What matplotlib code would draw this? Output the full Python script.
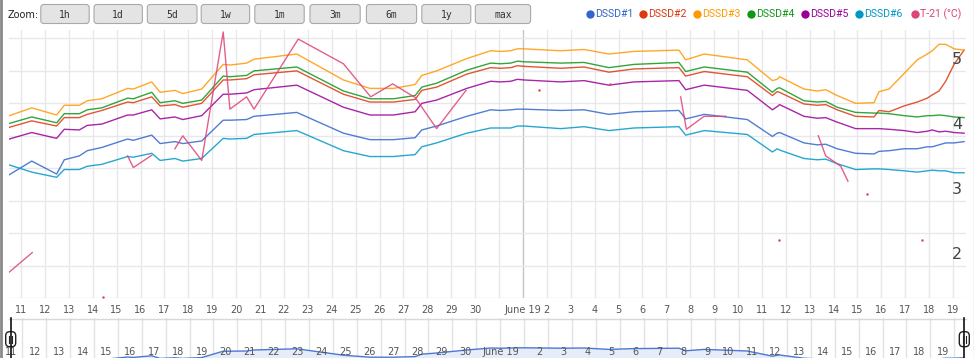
import numpy as np
import matplotlib
matplotlib.use("Agg")
import matplotlib.pyplot as plt
from matplotlib.patches import FancyBboxPatch
from matplotlib.transforms import offset_copy

nan = np.nan

# x = day of May 2019 (32 = June 1)
DAYS = [10.51, 11.45, 12.49, 12.81, 13.44, 13.77, 14.38, 15.46, 15.70, 16.47,
        16.82, 17.44, 17.77, 18.56, 19.46, 19.74, 20.44, 20.75, 22.54, 24.49,
        25.60, 26.58, 27.49, 27.77, 28.39, 29.65,
        30.65, 31.07, 31.49, 31.77, 32.05, 33.58, 34.56, 35.60, 36.65, 38.53,
        38.81, 39.59, 41.39, 42.44, 42.64, 42.74, 43.76, 44.32, 44.67, 45.15,
        45.92, 46.69, 46.90, 47.32, 47.95, 48.50, 48.92, 49.13, 49.41, 49.69,
        50.04, 50.46]

DSSD1 = [3.40, 3.61, 3.41, 3.63, 3.69, 3.77, 3.82, 3.95, 3.93, 4.01, 3.88, 3.91, 3.88,
         3.92, 4.24, 4.24, 4.25, 4.30, 4.36, 4.04, 3.94, 3.94, 3.97, 4.09, 4.15, 4.30,
         4.40, 4.39, 4.40, 4.41, 4.41, 4.39, 4.40, 4.33, 4.37, 4.39, 4.26, 4.33, 4.25,
         3.99, 4.04, 4.05, 3.89, 3.86, 3.87, 3.80, 3.73, 3.72, 3.76, 3.77, 3.80, 3.80,
         3.83, 3.83, 3.86, 3.89, 3.89, 3.91]
DSSD2 = [4.13, 4.23, 4.15, 4.28, 4.28, 4.33, 4.39, 4.52, 4.51, 4.60, 4.46, 4.48, 4.44,
         4.50, 4.86, 4.86, 4.88, 4.94, 5.00, 4.64, 4.52, 4.52, 4.56, 4.70, 4.75, 4.95,
         5.05, 5.04, 5.05, 5.08, 5.07, 5.04, 5.06, 4.98, 5.03, 5.05, 4.92, 4.99, 4.91,
         4.62, 4.68, 4.67, 4.49, 4.47, 4.48, 4.40, 4.30, 4.29, 4.39, 4.37, 4.46, 4.52,
         4.58, 4.63, 4.69, 4.84, 5.10, 5.32]
DSSD3 = [4.31, 4.43, 4.32, 4.47, 4.47, 4.54, 4.57, 4.73, 4.72, 4.83, 4.67, 4.70, 4.65,
         4.72, 5.10, 5.09, 5.12, 5.18, 5.26, 4.86, 4.73, 4.73, 4.79, 4.93, 5.00, 5.19,
         5.31, 5.30, 5.31, 5.34, 5.34, 5.31, 5.33, 5.26, 5.30, 5.32, 5.17, 5.26, 5.17,
         4.85, 4.87, 4.91, 4.72, 4.69, 4.71, 4.62, 4.50, 4.51, 4.68, 4.72, 4.96, 5.17,
         5.26, 5.31, 5.41, 5.41, 5.34, 5.32]
DSSD4 = [4.19, 4.29, 4.20, 4.34, 4.34, 4.40, 4.43, 4.58, 4.57, 4.67, 4.51, 4.54, 4.50,
         4.55, 4.92, 4.91, 4.93, 5.00, 5.06, 4.69, 4.57, 4.57, 4.62, 4.75, 4.81, 5.01,
         5.12, 5.11, 5.12, 5.15, 5.14, 5.12, 5.13, 5.05, 5.10, 5.13, 4.99, 5.06, 4.98,
         4.67, 4.73, 4.74, 4.54, 4.52, 4.53, 4.44, 4.36, 4.35, 4.35, 4.34, 4.31, 4.29,
         4.31, 4.31, 4.32, 4.31, 4.29, 4.28]
DSSD5 = [3.95, 4.05, 3.96, 4.10, 4.09, 4.16, 4.18, 4.32, 4.32, 4.40, 4.26, 4.29, 4.25,
         4.31, 4.64, 4.64, 4.66, 4.71, 4.78, 4.44, 4.32, 4.32, 4.37, 4.50, 4.55, 4.73,
         4.84, 4.83, 4.84, 4.87, 4.86, 4.83, 4.85, 4.78, 4.83, 4.85, 4.71, 4.78, 4.70,
         4.40, 4.45, 4.48, 4.30, 4.27, 4.28, 4.21, 4.11, 4.11, 4.11, 4.10, 4.08, 4.05,
         4.07, 4.09, 4.06, 4.07, 4.05, 4.04]
DSSD6 = [3.55, 3.44, 3.36, 3.48, 3.48, 3.53, 3.56, 3.68, 3.67, 3.73, 3.62, 3.65, 3.61,
         3.65, 3.96, 3.95, 3.96, 4.02, 4.08, 3.77, 3.68, 3.68, 3.71, 3.83, 3.89, 4.04,
         4.12, 4.12, 4.12, 4.15, 4.15, 4.11, 4.14, 4.08, 4.12, 4.14, 4.01, 4.08, 4.02,
         3.75, 3.80, 3.78, 3.65, 3.63, 3.64, 3.57, 3.48, 3.49, 3.49, 3.48, 3.46, 3.44,
         3.46, 3.47, 3.46, 3.46, 3.43, 3.43]

# temperature sensor, nan = gap
T21_DAYS = [10.51, 11.47, nan, 14.44, nan, 15.46, 15.70, 16.47, nan,
            17.44, 17.77, 18.56, 19.46, 19.74, 20.44, 20.75, 22.60, 24.49, 25.63,
            26.55, 27.49, 28.39, 29.62, nan, 32.67, nan, 35.64, nan,
            38.60, 38.84, 39.58, 40.49, nan, 42.73, nan, 44.36, 44.67, 45.30, 45.60,
            nan, 46.38, nan, 48.71]
T21_VALS = [1.90, 2.20, nan, 1.51, nan, 3.69, 3.51, 3.70, nan,
            3.80, 4.00, 3.62, 5.60, 4.41, 4.60, 4.41, 5.49, 5.11, 4.60,
            4.80, 4.59, 4.11, 4.70, nan, 4.70, nan, 4.80, nan,
            4.60, 4.10, 4.30, 4.30, nan, 2.40, nan, 4.00, 3.69, 3.53, 3.30,
            nan, 3.10, nan, 2.40]

NAMES = ["DSSD#1", "DSSD#2", "DSSD#3", "DSSD#4", "DSSD#5", "DSSD#6", "T-21 (°C)"]
COLORS = ["#3366cc", "#dc3912", "#ff9900", "#109618", "#990099", "#0099c6", "#dd4477"]
BUTTONS = ["1h", "1d", "5d", "1w", "1m", "3m", "6m", "1y", "max"]
TICK_DAYS = list(range(11, 51))
TICK_LABELS = [str(d) for d in range(11, 31)] + ["", "June 19"] + [str(d) for d in range(2, 20)]

W, H = 974, 358
fig = plt.figure(figsize=(W / 100, H / 100), dpi=100)


def box(x0, y0, x1, y1):
    return [x0 / W, 1 - y1 / H, (x1 - x0) / W, (y1 - y0) / H]


XLIM = (10.51, 50.54)
GRID = "#e7e7ec"
TXT = "#555555"

# ---- main plot
ax = fig.add_axes(box(9.3, 30, 966, 298))
ax.set_xlim(*XLIM)
ax.set_ylim(1.5, 5.63)
for s in ax.spines.values():
    s.set_visible(False)
for d in TICK_DAYS:
    ax.axvline(d, color="#c4c4c4" if d == 32 else GRID, lw=1, zorder=0)
for v in np.arange(1.5, 5.6, 0.5):
    ax.axhline(v, color=GRID, lw=1, zorder=0)
ax.set_xticks(TICK_DAYS)
ax.set_xticklabels(TICK_LABELS)
ax.set_yticks([])
ax.tick_params(axis="x", length=0, pad=5, labelsize=7, labelcolor=TXT)

for vals, c in zip([DSSD1, DSSD2, DSSD3, DSSD4, DSSD5, DSSD6], COLORS):
    ax.plot(DAYS, vals, color=c, lw=1.0, alpha=0.85, solid_joinstyle="round")

td = np.array(T21_DAYS)
tv = np.array(T21_VALS)
ax.plot(td, tv, color=COLORS[6], lw=1.0, alpha=0.85)
ok = ~np.isnan(tv)
prev_ok = np.r_[False, ok[:-1]]
next_ok = np.r_[ok[1:], False]
lone = ok & ~prev_ok & ~next_ok
ax.plot(td[lone], tv[lone], "o", color=COLORS[6], ms=1.8, mew=0)

ylab_tr = offset_copy(ax.transData, fig=fig, x=-4, y=11, units="dots")
for v in [2, 3, 4, 5]:
    ax.text(XLIM[1], v, str(v), transform=ylab_tr, ha="right", va="center",
            fontsize=11.5, color="#444444")

# ---- navigator
nav = fig.add_axes(box(9.3, 318, 966, 358))
nav.set_xlim(*XLIM)
nav.set_ylim(3.90, 5.90)
nav.axis("off")
for d in TICK_DAYS:
    nav.axvline(d + 0.05, color="#e3e3e3", lw=1, zorder=0)
nav.fill_between(DAYS, DSSD1, 3.0, color="#e6ecf8", lw=0, zorder=1)
nav.plot(DAYS, DSSD1, color="#4a78d4", lw=1.0, zorder=2)
nav_tr = offset_copy(nav.transData, fig=fig, x=-4, y=0, units="dots")
for d, lab in zip(TICK_DAYS, TICK_LABELS):
    if lab:
        nav.text(d, 4.20, lab, transform=nav_tr, ha="right", va="center",
                 fontsize=7, color=TXT, zorder=3)

# ---- overlay (buttons, legend, borders, handles) in pixel units
ov = fig.add_axes([0, 0, 1, 1])
ov.set_xlim(0, W)
ov.set_ylim(H, 0)
ov.axis("off")

ov.text(8, 14.5, "Zoom:", ha="left", va="center", fontsize=7, color="#222222")
bx = [(40.8, 89.2), (94, 142.4), (147.3, 197), (201.2, 249.6), (254.8, 304.2),
      (310, 360.2), (366.4, 416.6), (421.8, 470.8), (475.3, 530.6)]
for (x0, x1), lab in zip(bx, BUTTONS):
    ov.add_patch(FancyBboxPatch((x0, 4.5), x1 - x0, 19, boxstyle="round,pad=0,rounding_size=3",
                                fc="#e4e4e4", ec="#a9a9a9", lw=0.8))
    ov.text((x0 + x1) / 2, 14.5, lab, ha="center", va="center", fontsize=7,
            family="DejaVu Sans Mono", color="#333333")

leg_x = [590, 643, 697, 751, 805, 859, 915]
for x, name, c in zip(leg_x, NAMES, COLORS):
    ov.plot([x], [13.5], "o", color=c, ms=6, mew=0)
    ov.text(x + 5, 14, name, ha="left", va="center", fontsize=7.6, family="Roboto", color=c)

ov.plot([1, 1], [0, H], color="#8a8a8a", lw=2)
ov.plot([973.5, 973.5], [0, H], color="#d0d0d0", lw=1)
ov.plot([9, 966], [318.5, 318.5], color="#d8d8d8", lw=1)

for hx in [10.7, 964.3]:
    ov.plot([hx, hx], [318, H], color="#111111", lw=1.2)
    ov.add_patch(FancyBboxPatch((hx - 5, 331.7), 10, 15, boxstyle="round,pad=0,rounding_size=4",
                                fc="white", ec="#222222", lw=1))
    ov.plot([hx - 1.3, hx - 1.3], [335.5, 343], color="#222222", lw=0.8)
    ov.plot([hx + 1.3, hx + 1.3], [335.5, 343], color="#222222", lw=0.8)

fig.savefig("out.png", dpi=100)
